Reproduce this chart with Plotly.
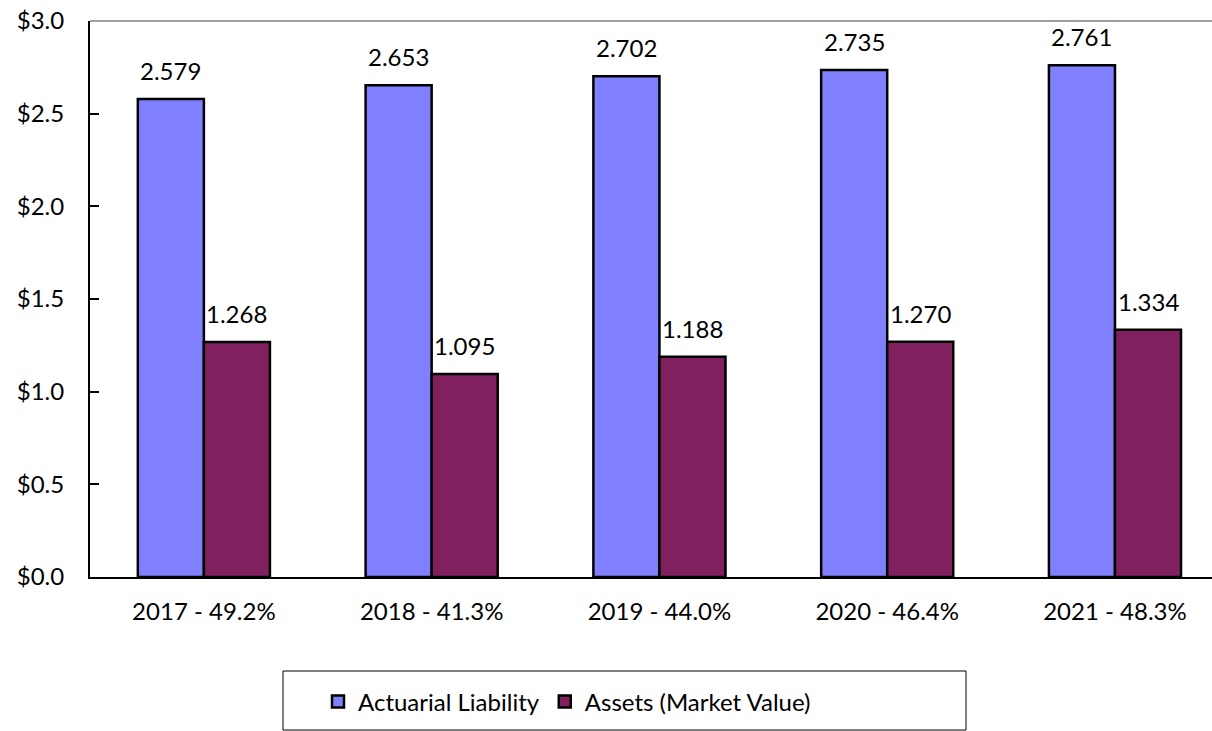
import plotly.graph_objects as go

categories = ["2017 - 49.2%", "2018 - 41.3%", "2019 - 44.0%", "2020 - 46.4%", "2021 - 48.3%"]
liability = [2.579, 2.653, 2.702, 2.735, 2.761]
assets = [1.268, 1.095, 1.188, 1.270, 1.334]
y_ticks = [0.0, 0.5, 1.0, 1.5, 2.0, 2.5, 3.0]
y_tick_text = ["$0.0", "$0.5", "$1.0", "$1.5", "$2.0", "$2.5", "$3.0"]

FONT = "Lato"
FS = 24
fig = go.Figure()
fig.add_trace(go.Bar(x=categories, y=liability, name="Actuarial Liability",
                     marker=dict(color="#8080FF", line=dict(color="black", width=2.5))))
fig.add_trace(go.Bar(x=categories, y=assets, name="Assets (Market Value)",
                     marker=dict(color="#80205F", line=dict(color="black", width=2.5))))

for i, c in enumerate(categories):
    for v, off in ((liability[i], -0.145), (assets[i], 0.145)):
        fig.add_annotation(x=i + off, y=v, text=f"{v:.3f}", showarrow=False,
                           xref="x", yref="y", yanchor="bottom", yshift=12,
                           font=dict(family=FONT, size=FS, color="black"))

# top border line of chart
fig.add_shape(type="line", xref="paper", yref="paper", x0=0, x1=1.0, y0=1, y1=1,
              line=dict(color="#404040", width=1))
# legend box
fig.add_shape(type="rect", xref="paper", yref="paper",
              x0=(283 - 90) / 1122, x1=(966 - 90) / 1122,
              y0=(577 - 730) / 556, y1=(577 - 671) / 556,
              line=dict(color="black", width=1), fillcolor="rgba(0,0,0,0)")

fig.update_layout(
    width=1212, height=731,
    margin=dict(l=90, r=0, t=21, b=154, pad=0),
    plot_bgcolor="white", paper_bgcolor="white",
    barmode="group", bargap=0.42, bargroupgap=0,
    font=dict(family=FONT, size=FS, color="black"),
    showlegend=True,
    legend=dict(orientation="h", x=(318 - 90) / 1122, xanchor="left",
                y=(577 - 702) / 556, yanchor="middle",
                font=dict(family=FONT, size=FS), bgcolor="rgba(0,0,0,0)",
                itemwidth=30, tracegroupgap=0),
    xaxis=dict(range=[-0.5, 4.426], showline=True, linecolor="black", linewidth=2,
               ticks="", tickfont=dict(size=FS), ticklabelstandoff=12, fixedrange=True),
    yaxis=dict(range=[0, 3.0], tickvals=y_ticks, ticktext=y_tick_text,
               showline=True, linecolor="black", linewidth=2, showgrid=False,
               zeroline=False, ticks="inside", ticklen=9, tickcolor="black", tickwidth=1.5,
               tickfont=dict(size=FS), ticklabelstandoff=19, fixedrange=True),
)
fig.write_html("out.html")
